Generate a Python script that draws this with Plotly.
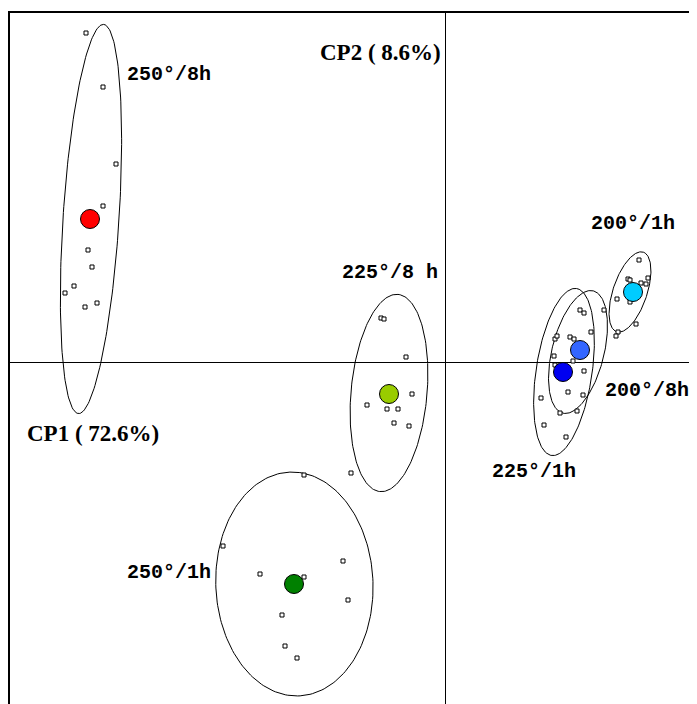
import numpy as np
import plotly.graph_objects as go

# ---- data (PCA scores) ----
groups = ["250°/8h", "225°/8 h", "250°/1h", "200°/1h", "200°/8h", "225°/1h"]
colors = ["#FF0000", "#99CC00", "#008000", "#00CCFF", "#3366FF", "#0000F0"]

scores_x = [
    [-17.95, -17.1, -16.45, -17.1, -17.85, -17.65, -18.55, -19.0, -18.0, -17.4],
    [-3.2, -3.05, -1.95, -1.65, -3.9, -2.9, -2.35, -2.55, -1.8, -4.7],
    [-7.05, -11.1, -9.25, -7.05, -5.1, -4.85, -8.15, -8.0, -7.4],
    [9.7, 9.15, 9.25, 9.8, 10.05, 10.15, 9.25, 8.6, 9.55, 8.65, 8.55],
    [6.75, 6.95, 7.95, 7.3, 6.25, 6.45, 6.4, 6.95, 6.9, 6.6],
    [5.5, 5.6, 5.45, 5.5, 6.15, 4.8, 5.75, 4.95, 6.05],
]
scores_y = [
    [16.45, 13.75, 9.9, 7.8, 5.6, 4.75, 3.8, 3.45, 2.75, 2.95],
    [2.2, 2.15, 0.25, -1.6, -2.15, -2.35, -2.35, -3.05, -3.2, -5.55],
    [-5.65, -9.2, -10.6, -10.75, -9.95, -11.9, -12.65, -14.2, -14.8],
    [5.1, 4.15, 4.1, 3.95, 3.9, 4.2, 3.0, 3.15, 1.9, 1.5, 1.3],
    [2.6, 2.45, 2.6, 1.5, 1.25, 1.15, 0.05, -0.45, -1.65, -2.45],
    [1.15, 1.3, 0.3, -0.15, -1.5, -1.8, -2.55, -3.15, -3.75],
]
centroid_x = [-17.75, -2.8, -7.55, 9.4, 6.75, 5.9]
centroid_y = [7.15, -1.6, -11.1, 3.5, 0.6, -0.5]

# confidence ellipses: centre, semi-major, semi-minor, angle (deg)
ell_cx = [-17.7, -2.8, -7.53, 9.25, 6.65, 5.95]
ell_cy = [7.15, -1.55, -11.1, 3.5, 0.5, -0.5]
ell_a = [9.75, 4.95, 5.6, 2.1, 3.15, 4.22]
ell_b = [1.4, 1.9, 3.93, 0.85, 1.3, 1.4]
ell_ang = [86.3, 84.8, 92.3, 71.4, 76.0, 81.5]

# label positions
lab_x = [-13.78, -2.75, -13.78, 9.4, 10.08, 4.45]
lab_y = [14.4, 4.5, -10.5, 6.95, -1.4, -5.45]

fig = go.Figure()

t = np.linspace(0, 2 * np.pi, 200)
for i in range(len(groups)):
    th = np.deg2rad(ell_ang[i])
    ex = ell_cx[i] + ell_a[i] * np.cos(t) * np.cos(th) - ell_b[i] * np.sin(t) * np.sin(th)
    ey = ell_cy[i] + ell_a[i] * np.cos(t) * np.sin(th) + ell_b[i] * np.sin(t) * np.cos(th)
    fig.add_trace(go.Scatter(x=ex, y=ey, mode="lines",
                             line=dict(color="black", width=1), hoverinfo="skip"))

for i in range(len(groups)):
    fig.add_trace(go.Scatter(x=scores_x[i], y=scores_y[i], mode="markers",
                             marker=dict(symbol="square", size=4, color="white",
                                         line=dict(color="black", width=1))))

for i in range(len(groups)):
    fig.add_trace(go.Scatter(x=[centroid_x[i]], y=[centroid_y[i]], mode="markers",
                             marker=dict(size=19, color=colors[i],
                                         line=dict(color="black", width=1))))

for i in range(len(groups)):
    fig.add_annotation(x=lab_x[i], y=lab_y[i], text="<b>" + groups[i] + "</b>", showarrow=False,
                       font=dict(family="Liberation Mono", size=20, color="black"),
                       xanchor="center", yanchor="middle")

fig.add_annotation(x=-0.1, y=15.5, text="<b>CP2 ( 8.6%)</b>", showarrow=False,
                   font=dict(family="Liberation Serif", size=23, color="black"),
                   xanchor="right", yanchor="middle")
fig.add_annotation(x=-21.0, y=-3.55, text="<b>CP1 ( 72.6%)</b>", showarrow=False,
                   font=dict(family="Liberation Serif", size=23, color="black"),
                   xanchor="left", yanchor="middle")

fig.update_layout(
    width=689, height=696,
    margin=dict(l=2, r=0, t=5, b=0),
    plot_bgcolor="white", paper_bgcolor="white",
    showlegend=False,
    xaxis=dict(range=[-21.75, 12.6], side="top", showline=True, linewidth=2,
               linecolor="black", showgrid=False, showticklabels=False, ticks="",
               zeroline=True, zerolinecolor="black", zerolinewidth=1),
    yaxis=dict(range=[-17.1, 17.45], showline=True, linewidth=2,
               linecolor="black", showgrid=False, showticklabels=False, ticks="",
               zeroline=True, zerolinecolor="black", zerolinewidth=1),
)

fig.write_html("out.html")
